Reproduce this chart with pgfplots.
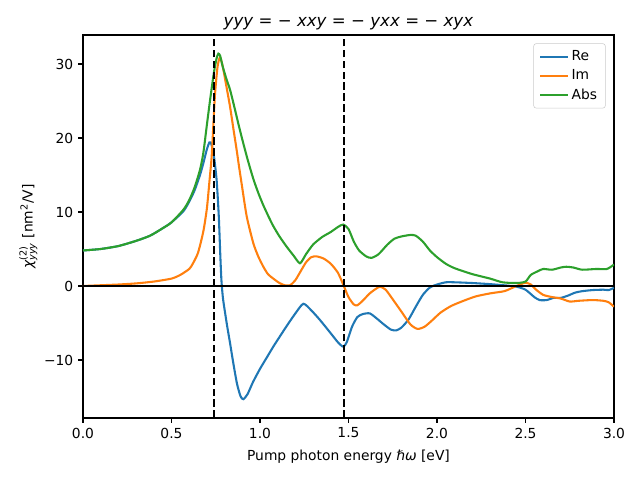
\documentclass[border=0pt]{standalone}
\usepackage{pgfplots}
\pgfplotsset{compat=1.18}
\usepackage{amsmath}
\usepackage{fontspec}
\setmainfont{DejaVu Sans}
\definecolor{c0}{HTML}{1F77B4}
\definecolor{c1}{HTML}{FF7F0E}
\definecolor{c2}{HTML}{2CA02C}
\begin{document}
\begin{tikzpicture}
\path[use as bounding box] (-0.83in,-0.62in) rectangle (5.57in,4.18in);
\begin{axis}[
  scale only axis, width=5.31in, height=3.83in,
  at={(0,0)}, anchor=south west,
  xmin=0, xmax=3, ymin=-17.84, ymax=33.92,
  xtick={0,0.5,1,1.5,2,2.5,3},
  xticklabels={0.0,0.5,1.0,1.5,2.0,2.5,3.0},
  ytick={-10,0,10,20,30},
  yticklabels={−10,0,10,20,30},
  tick align=outside, tickpos=left,
  major tick length=3.5pt,
  tick style={black, line width=0.8pt},
  axis line style={line width=0.8pt},
  /pgf/number format/assume math mode=true,
  ticklabel style={font=\fontsize{10}{12}\selectfont},
  xlabel={Pump photon energy \textit{ℏω} [eV]},
  ylabel={$\textit{χ}^{\text{(2)}}_{\textit{yyy}}$ [nm$^{\text{2}}$/V]},
  label style={font=\fontsize{10}{12}\selectfont},
  xlabel style={yshift=-1.5pt},
  ylabel style={yshift=-2pt},
  title={\textit{yyy} = − \textit{xxy} = − \textit{yxx} = − \textit{xyx}},
  title style={font=\fontsize{12}{14}\selectfont, yshift=-6pt},
  legend style={at={(1,1)}, anchor=north east, xshift=-6pt, yshift=-6pt,
    font=\fontsize{10}{12}\selectfont, draw=black!20, rounded corners=2pt,
    fill=white, fill opacity=0.8, text opacity=1, row sep=1pt,
    inner xsep=4pt, inner ysep=3pt},
  legend cell align=left,
  legend image code/.code={\draw[#1] (0pt,0pt) -- (20pt,0pt);},
  every axis plot/.append style={line width=1.5pt},
]
\addplot[c0, smooth, tension=0.4] coordinates {
(0.00,4.8) (0.10,5.0) (0.20,5.4) (0.30,6.1) (0.379,6.8) (0.45,7.8) (0.50,8.6)
(0.567,10.1) (0.60,11.4) (0.63,12.9) (0.661,15.0) (0.68,16.6) (0.699,18.4)
(0.714,19.4) (0.725,19.2) (0.74,17.5) (0.755,14.3) (0.767,9.5) (0.776,4.0)
(0.782,0.8) (0.79,-1.5) (0.80,-3.2) (0.815,-5.5) (0.83,-7.6)
(0.849,-10.4) (0.87,-13.2) (0.89,-14.9) (0.906,-15.3) (0.93,-14.6) (0.96,-13.0)
(1.00,-11.2) (1.04,-9.6) (1.075,-8.2) (1.11,-6.9) (1.151,-5.4) (1.20,-3.7)
(1.245,-2.4) (1.29,-3.3) (1.339,-4.6) (1.40,-6.4) (1.44,-7.6) (1.47,-8.2)
(1.49,-7.6) (1.52,-5.5) (1.55,-4.2) (1.58,-3.8) (1.62,-3.7) (1.66,-4.4)
(1.70,-5.2) (1.74,-5.9) (1.77,-6.0) (1.80,-5.6) (1.84,-4.5) (1.88,-2.8)
(1.92,-1.2) (1.96,-0.2) (2.00,0.2) (2.05,0.5) (2.10,0.5) (2.20,0.4)
(2.30,0.25) (2.40,0.05) (2.45,-0.1) (2.50,-0.5) (2.55,-1.5) (2.58,-1.9)
(2.62,-1.9) (2.66,-1.6) (2.70,-1.6) (2.74,-1.3) (2.78,-0.9) (2.82,-0.7)
(2.88,-0.55) (2.94,-0.5) (2.97,-0.55) (3.00,-0.25)
};
\addlegendentry{Re}
\addplot[c1, smooth, tension=0.4] coordinates {
(0.00,0.0) (0.10,0.1) (0.20,0.2) (0.30,0.35) (0.40,0.6) (0.50,1.0) (0.55,1.5)
(0.60,2.3) (0.62,3.0) (0.65,4.5) (0.68,7.4) (0.70,10.5) (0.715,14.3)
(0.727,17.5) (0.737,22.0) (0.746,26.0) (0.76,29.6) (0.774,30.9) (0.79,29.6)
(0.81,27.0) (0.831,24.2) (0.85,21.2) (0.868,18.4) (0.88,16.4) (0.897,13.7)
(0.925,9.4) (0.962,5.8) (0.99,4.0) (1.019,2.6) (1.045,1.6) (1.075,1.0)
(1.11,0.4) (1.14,0.1) (1.17,0.1) (1.20,0.8) (1.23,2.0) (1.26,3.2) (1.29,3.9)
(1.32,4.0) (1.36,3.7) (1.40,3.0) (1.44,1.8) (1.47,0.2) (1.50,-1.5) (1.53,-2.5)
(1.55,-2.6) (1.58,-2.0) (1.62,-1.0) (1.66,-0.3) (1.68,-0.1) (1.71,-0.5)
(1.75,-1.8) (1.80,-3.5) (1.85,-5.2) (1.89,-5.8) (1.93,-5.5) (1.97,-4.7)
(2.02,-3.6) (2.08,-2.7) (2.15,-2.0) (2.22,-1.4) (2.30,-1.0) (2.38,-0.7)
(2.43,-0.2) (2.47,0.2) (2.50,0.45) (2.53,0.2) (2.56,-0.5) (2.60,-1.2)
(2.65,-1.5) (2.70,-1.7) (2.75,-2.1) (2.80,-2.0) (2.88,-1.9) (2.94,-2.0)
(2.97,-2.2) (3.00,-2.8)
};
\addlegendentry{Im}
\addplot[c2, smooth, tension=0.4] coordinates {
(0.00,4.8) (0.10,5.0) (0.20,5.4) (0.30,6.1) (0.379,6.8) (0.45,7.8) (0.50,8.6)
(0.567,10.3) (0.60,11.6) (0.63,13.3) (0.661,15.7) (0.68,18.0) (0.70,21.8)
(0.72,25.5) (0.74,28.9) (0.755,30.8) (0.765,31.4) (0.775,31.1) (0.79,29.6)
(0.81,28.0) (0.831,26.5) (0.855,24.2) (0.877,22.0) (0.90,19.8) (0.93,17.1)
(0.962,14.5) (0.99,12.6) (1.019,10.9) (1.05,9.3) (1.075,8.1) (1.11,6.7)
(1.151,5.3) (1.19,4.1) (1.226,3.07) (1.26,4.3) (1.30,5.6) (1.35,6.6)
(1.40,7.3) (1.442,8.0) (1.47,8.3) (1.50,7.7) (1.53,6.0) (1.56,4.8) (1.60,4.0)
(1.63,3.8) (1.67,4.3) (1.72,5.6) (1.76,6.4) (1.80,6.7) (1.85,6.9) (1.88,6.8)
(1.92,6.0) (1.96,4.8) (2.00,3.9) (2.05,3.0) (2.10,2.4) (2.20,1.6) (2.30,1.0)
(2.37,0.5) (2.45,0.4) (2.50,0.6) (2.53,1.5) (2.57,2.0) (2.60,2.3) (2.65,2.2)
(2.70,2.5) (2.73,2.6) (2.77,2.5) (2.82,2.2) (2.90,2.3) (2.96,2.3) (3.00,2.9)
};
\addlegendentry{Abs}
\addplot[black, forget plot] coordinates {(0,0) (3,0)};
\addplot[black, dash pattern=on 5.5pt off 2.4pt, forget plot] coordinates {(0.739,-17.84) (0.739,33.92)};
\addplot[black, dash pattern=on 5.5pt off 2.4pt, forget plot] coordinates {(1.473,-17.84) (1.473,33.92)};
\end{axis}
\end{tikzpicture}
\end{document}
